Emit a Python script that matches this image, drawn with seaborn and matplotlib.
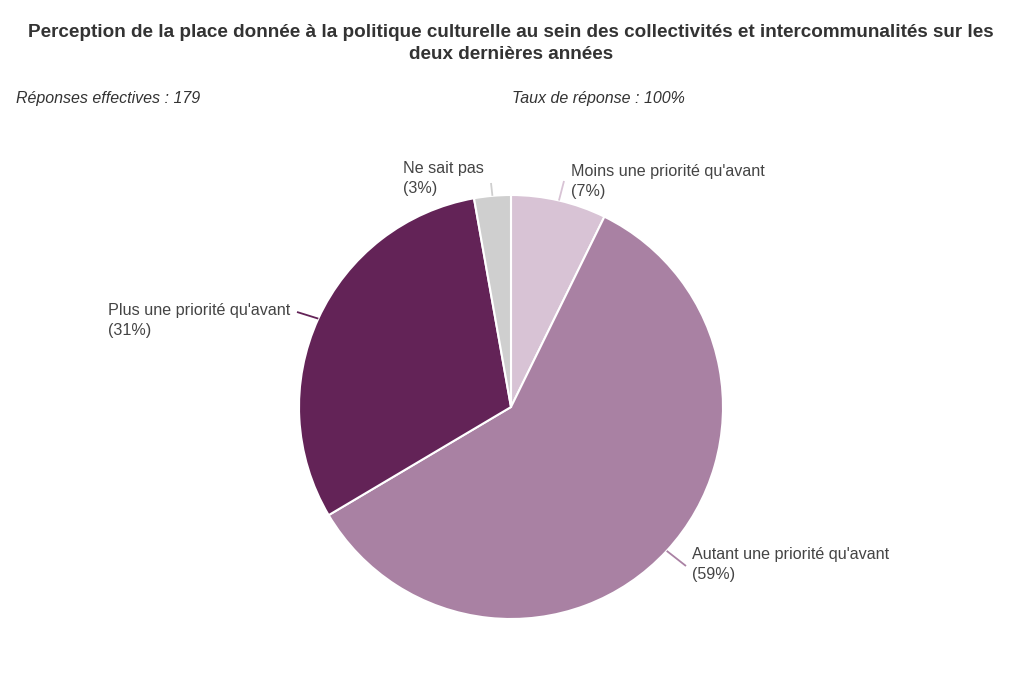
import matplotlib
matplotlib.use("Agg")
import matplotlib.pyplot as plt
import seaborn as sns
import numpy as np

# données (179 réponses)
categories = ["Moins une priorité qu'avant", "Autant une priorité qu'avant",
              "Plus une priorité qu'avant", "Ne sait pas"]
counts = [13, 106, 55, 5]
colors = ["#d8c3d5", "#a981a3", "#632357", "#cfcfcf"]
line_colors = ["#d8c3d5", "#a981a3", "#632357", "#cfcfcf"]

title = ("Perception de la place donnée à la politique culturelle au sein des collectivités "
         "et intercommunalités sur les\ndeux dernières années")
left_note = "Réponses effectives : 179"
right_note = "Taux de réponse : 100%"

sns.set_theme(style="white")
plt.rcParams['font.family'] = ['Liberation Sans', 'DejaVu Sans']

W, H = 1024, 700
fig = plt.figure(figsize=(W / 100, H / 100), dpi=100)
ax = fig.add_axes([0, 0, 1, 1])

cx, cy, r = 511, H - 407, 212
wedges, _ = ax.pie(counts, colors=sns.color_palette(colors), startangle=90,
                   counterclock=False, center=(cx, cy), radius=r,
                   wedgeprops=dict(edgecolor="white", linewidth=1.5))
ax.set_xlim(0, W)
ax.set_ylim(0, H)
ax.set_aspect("equal")
ax.axis("off")

total = sum(counts)
# position du texte (coin gauche, haut de la 1re ligne) et bout du trait
label_pos = [(571, 164), (692, 547), (108, 303), (403, 161)]
line_end = [(564, 181), (686, 566), (297, 312), (491, 183)]
for w, c, name, (tx, ty), (lx, ly), lc in zip(wedges, counts, categories,
                                               label_pos, line_end, line_colors):
    mid = np.deg2rad((w.theta1 + w.theta2) / 2)
    ex, ey = cx + r * np.cos(mid), cy + r * np.sin(mid)
    ax.plot([ex, lx], [ey, H - ly], color=lc, lw=1.3, solid_capstyle="butt")
    pct = round(100 * c / total)
    ax.text(tx, H - ty, f"{name}\n({pct}%)", ha="left", va="top",
            fontsize=11.6, color="#444444", linespacing=1.45)

fig.text(511 / W, 1 - 24 / H, title, ha="center", va="top", fontsize=13.6,
         fontweight="bold", color="#333333", linespacing=1.35)
fig.text(16 / W, 1 - 99 / H, left_note, ha="left", va="center", fontsize=11.5,
         style="italic", color="#333333")
fig.text(512 / W, 1 - 99 / H, right_note, ha="left", va="center", fontsize=11.5,
         style="italic", color="#333333")

fig.savefig("out.png", dpi=100, facecolor="white")
